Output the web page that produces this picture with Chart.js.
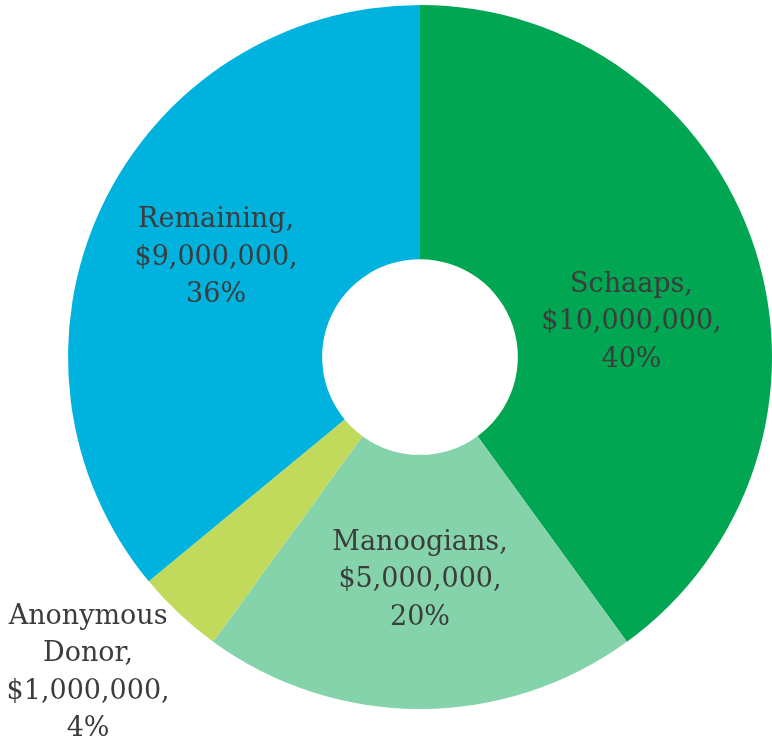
<!DOCTYPE html>
<html>
<head>
<meta charset="utf-8">
<script src="https://cdn.jsdelivr.net/npm/chart.js@4/dist/chart.umd.min.js"></script>
<style>
  html, body { margin: 0; padding: 0; background: #ffffff; }
  #wrap { width: 772px; height: 743px; position: relative; }
</style>
</head>
<body>
<div id="wrap"><canvas id="chart"></canvas></div>
<script>
// Donor breakdown
const donorNames = ["Schaaps", "Manoogians", "Anonymous Donor", "Remaining"];
const donorAmounts = [10000000, 5000000, 1000000, 9000000];
const donorShares = ["40%", "20%", "4%", "36%"];
const sliceColors = ["#00a651", "#84d3ab", "#c2da5b", "#00b2de"];

// label lines as they wrap in the picture
const labelLines = [
  ["Schaaps,", "$10,000,000,", "40%"],
  ["Manoogians,", "$5,000,000,", "20%"],
  ["Anonymous", "Donor,", "$1,000,000,", "4%"],
  ["Remaining,", "$9,000,000,", "36%"],
];
// where each label sits: fraction of outer radius and angle nudge (deg)
const labelRadius = [0.609, 0.634, 1.302, 0.644];
const labelAngleShift = [8.6, 0, 3.2, 0.7];

const sliceLabels = {
  id: "sliceLabels",
  afterDatasetsDraw(chart) {
    const ctx = chart.ctx;
    const meta = chart.getDatasetMeta(0);
    ctx.save();
    ctx.font = "27px 'DejaVu Serif'";
    ctx.fillStyle = "#3c3c3c";
    ctx.textAlign = "center";
    ctx.textBaseline = "middle";
    const lineH = 37.5;
    meta.data.forEach((arc, i) => {
      const p = arc.getProps(["x", "y", "startAngle", "endAngle", "outerRadius"], true);
      const mid = (p.startAngle + p.endAngle) / 2 + labelAngleShift[i] * Math.PI / 180;
      const r = p.outerRadius * labelRadius[i];
      const cx = p.x + Math.cos(mid) * r;
      const cy = p.y + Math.sin(mid) * r;
      const lines = labelLines[i];
      const top = cy - (lines.length - 1) * lineH / 2;
      lines.forEach((t, j) => ctx.fillText(t, cx, top + j * lineH));
    });
    ctx.restore();
  },
};

new Chart(document.getElementById("chart"), {
  type: "doughnut",
  data: {
    labels: donorNames,
    datasets: [
      {
        data: donorAmounts,
        backgroundColor: sliceColors,
        borderWidth: 0,
      },
    ],
  },
  options: {
    responsive: true,
    maintainAspectRatio: false,
    animation: false,
    cutout: "27.8%",
    layout: { padding: { left: 68, right: 0, top: 5, bottom: 34 } },
    plugins: {
      legend: { display: false },
      tooltip: { enabled: false },
    },
  },
  plugins: [sliceLabels],
});
</script>
</body>
</html>
